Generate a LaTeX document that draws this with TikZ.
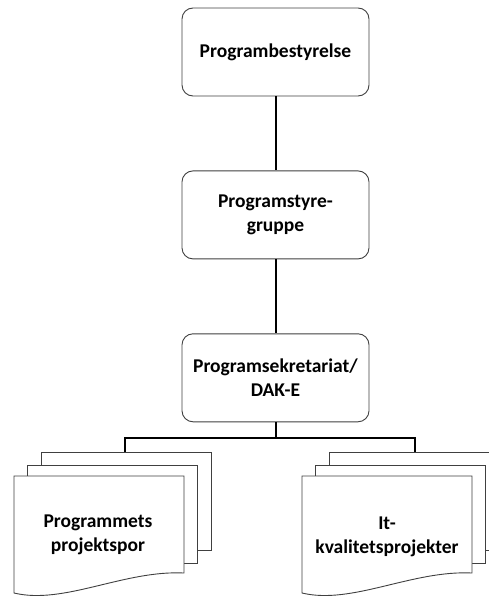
\documentclass[tikz,border=0pt]{standalone}
\usepackage{fontspec}
\setmainfont{Carlito}
\usetikzlibrary{positioning}

\begin{document}
\begin{tikzpicture}[x=1pt,y=-1pt,
    font=\bfseries\fontsize{19.5}{24}\selectfont,
    boks/.style={draw=black!75,fill=white,rounded corners=11pt,line width=0.9pt,
        minimum width=187pt,minimum height=88pt,align=center,inner sep=0pt},
    side/.style={draw=black!75,fill=white,line width=0.9pt},
    forb/.style={draw,line width=2pt}
    ]
    \useasboundingbox (0,0) rectangle (488,596);

    % Kasser
    \node[boks] (best) at (275.5,52) {Programbestyrelse};
    \node[boks, below=74pt of best] (styre) {Programstyre-\\gruppe};
    \node[boks, below=74pt of styre] (sek) {Programsekretariat/\\DAK-E};

    % Dokumentstakke
    \foreach \x in {14,302} {
        \draw[side] (\x+27,452) rectangle ++(170,98);
        \draw[side] (\x+13,465) rectangle ++(170,98);
        \draw[side] (\x,476) -- (\x+170,476) -- (\x+170,573)
            .. controls (\x+110,570) and (\x+50,605) .. (\x,593) -- cycle;
    }
    \node[align=center] (spor) at (98,535) {Programmets\\projektspor};
    \node[align=center] (kval) at (387,537) {It-\\kvalitetsprojekter};

    \coordinate (sportop) at (125,452);
    \coordinate (kvaltop) at (415,452);
    \coordinate[below=16pt of sek.south] (bus);

    % Forbindelser
    \draw[forb] (best) -- (styre);
    \draw[forb] (styre) -- (sek);
    \draw[forb] (sek) -- (bus);
    \draw[forb] (sportop) |- (bus) -| (kvaltop);
\end{tikzpicture}
\end{document}
